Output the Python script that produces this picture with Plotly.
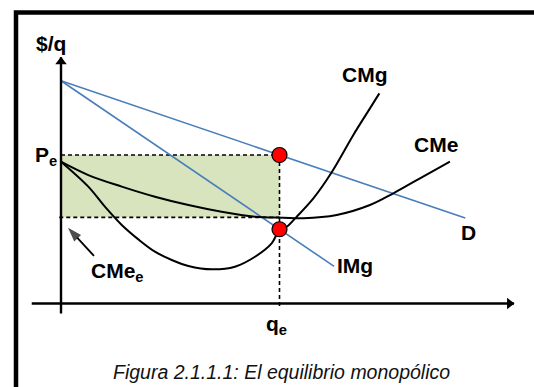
import plotly.graph_objects as go

# ---- data (economic units: quantity q, price $/q) ----
demand_q = [0, 18.5]
demand_p = [15, 5.75]
img_q = [0, 12.5]
img_p = [15, 2.5]
cme_q = [0, 1.25, 2.78, 4.30, 5.83, 7.35, 8.88, 10.17, 11.09, 12.62, 14.14, 15.21, 16.43, 17.80]
cme_p = [9.55, 8.65, 7.87, 7.19, 6.63, 6.18, 5.85, 5.78, 5.74, 5.96, 6.63, 7.42, 8.43, 9.55]
cmg_q = [0, 1.25, 2.01, 2.78, 3.54, 4.30, 5.07, 5.83, 6.90, 7.96, 8.88, 9.64, 10.0, 10.33, 10.79, 11.55, 12.39, 13.38, 14.14, 14.57]
cmg_p = [9.55, 7.87, 6.52, 5.29, 4.32, 3.49, 2.93, 2.53, 2.30, 2.48, 3.15, 4.05, 4.95, 5.17, 5.85, 7.08, 8.84, 11.35, 13.14, 14.15]
qe = 10
pe = 10
cme_e = 5.8
mg_e = 5.0
eq_q = [qe, qe]
eq_p = [pe, mg_e]

# axis extents / pointer (economic units)
xaxis_q = [-1.34, 20.73]
yaxis_p = [-0.67, 16.58]
pointer_q = [1.51, 0.32]
pointer_p = [3.2, 5.1]

BLUE = "#4a7ebb"
FONT = "Arial, Liberation Sans, sans-serif"

fig = go.Figure()

# profit rectangle
fig.add_shape(type="rect", x0=0, x1=qe, y0=cme_e, y1=pe, xref="x", yref="y",
              fillcolor="#d7e4bd", line=dict(width=0), layer="below")

dash = dict(color="black", width=1.6, dash="4px,3px")
fig.add_trace(go.Scatter(x=[0, qe], y=[pe, pe], mode="lines", line=dash))
fig.add_trace(go.Scatter(x=[-0.08, qe], y=[cme_e, cme_e], mode="lines", line=dash))
fig.add_trace(go.Scatter(x=[qe, qe], y=[pe, -0.25], mode="lines", line=dash))

fig.add_trace(go.Scatter(x=demand_q, y=demand_p, mode="lines", line=dict(color=BLUE, width=1.6)))
fig.add_trace(go.Scatter(x=img_q, y=img_p, mode="lines", line=dict(color=BLUE, width=1.6)))
fig.add_trace(go.Scatter(x=cme_q, y=cme_p, mode="lines", line=dict(color="black", width=2, shape="spline")))
fig.add_trace(go.Scatter(x=cmg_q, y=cmg_p, mode="lines", line=dict(color="black", width=2, shape="spline")))

# economic axes with arrowheads
fig.add_trace(go.Scatter(x=xaxis_q, y=[0, 0], mode="lines", line=dict(color="black", width=2.4)))
fig.add_trace(go.Scatter(x=[0, 0], y=yaxis_p, mode="lines", line=dict(color="black", width=2.4)))
fig.add_trace(go.Scatter(x=[xaxis_q[1] - 0.2], y=[0], mode="markers",
                         marker=dict(symbol="triangle-right", size=10, color="black", line=dict(width=0))))
fig.add_trace(go.Scatter(x=[0], y=[yaxis_p[1] - 0.3], mode="markers",
                         marker=dict(symbol="triangle-up", size=10, color="black", line=dict(width=0))))
# CMe_e pointer
fig.add_trace(go.Scatter(x=pointer_q, y=pointer_p, mode="lines+markers",
                         line=dict(color="black", width=1.8),
                         marker=dict(symbol="arrow", size=[0, 15], angleref="previous", color="black",
                                     line=dict(width=0))))

fig.add_trace(go.Scatter(x=eq_q, y=eq_p, mode="markers",
                         marker=dict(size=15, color="#ff0000", line=dict(color="black", width=1.2))))

lab = dict(family=FONT, size=21, color="black", weight="bold")
def label(txt, x, y, xa="center", ya="middle"):
    fig.add_annotation(x=x, y=y, xref="x", yref="y", text=txt, showarrow=False,
                       font=lab, xanchor=xa, yanchor=ya)

label("$/q", -0.46, 17.54)
label("CMg", 13.91, 15.45)
label("CMe", 17.14, 10.71)
label("D", 18.67, 4.81)
label("IMg", 13.46, 2.53)
label("P<sub>e</sub>", -0.1, pe - 0.1, xa="right")
label("CMe<sub>e</sub>", 1.3, cme_e - 3.7, xa="left")
label("q<sub>e</sub>", qe - 0.15, -1.45)

fig.add_annotation(x=281.5/534, y=1 - 372/387, xref="paper", yref="paper",
                   text="<i>Figura 2.1.1.1: El equilibrio monopólico</i>", showarrow=False,
                   font=dict(family=FONT, size=19.5, color="#111111"), xanchor="center", yanchor="middle")

# frame
fig.add_shape(type="rect", xref="paper", yref="paper", x0=16/534, x1=1.1, y0=-0.1, y1=1 - 12.5/387,
              line=dict(color="black", width=4.5), fillcolor="rgba(0,0,0,0)")

fig.update_layout(
    width=534, height=387, margin=dict(l=0, r=0, t=0, b=0, pad=0),
    paper_bgcolor="white", plot_bgcolor="white", showlegend=False,
    xaxis=dict(range=[-2.792, 21.648], visible=False, fixedrange=True),
    yaxis=dict(range=[-5.623, 20.438], visible=False, fixedrange=True),
)

fig.write_html("out.html", config={"displayModeBar": False},
               post_script="document.body.style.margin='0px';document.body.style.overflow='hidden';")
